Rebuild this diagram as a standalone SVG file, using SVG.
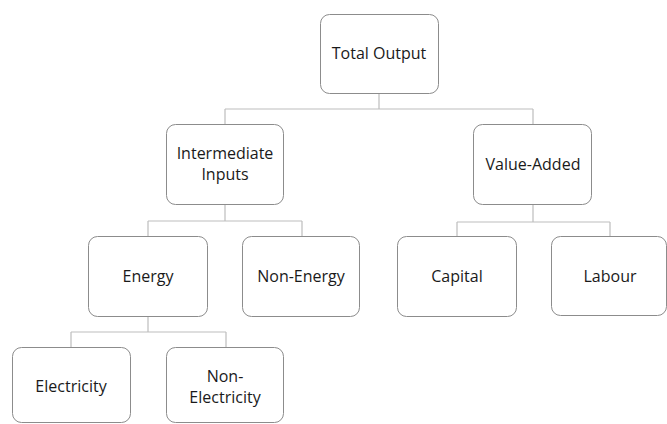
<svg xmlns="http://www.w3.org/2000/svg" width="667" height="424" viewBox="0 0 667 424">
<style>
.box{fill:#fff;stroke:#8c8c8c;stroke-width:1}
.lbl{font-family:"Open Sans","Liberation Sans",sans-serif;font-size:16px;fill:#1a1a1a;text-anchor:middle}
.con{fill:none;stroke:#bdbdbd;stroke-width:1.2}
</style>
<rect width="667" height="424" fill="#fff"/>
<g id="connectors">
<path class="con" d="M379,93 V109 M225,109 H533 M225,109 V124 M533,109 V124"/>
<path class="con" d="M225,204 V221 M148,221 H302 M148,221 V236 M302,221 V236"/>
<path class="con" d="M533,204 V222 M457,222 H610 M457,222 V236 M610,222 V236"/>
<path class="con" d="M148,316 V332 M71,332 H226 M71,332 V347 M226,332 V347"/>
</g>
<g id="total-output"><rect class="box" x="320.5" y="14.5" width="118" height="79" rx="9"/><text class="lbl" x="379" y="59">Total Output</text></g>
<g id="intermediate-inputs"><rect class="box" x="166.5" y="124.5" width="117" height="80" rx="9"/><text class="lbl" x="225" y="159">Intermediate</text><text class="lbl" x="225" y="180">Inputs</text></g>
<g id="value-added"><rect class="box" x="473.5" y="124.5" width="118" height="80" rx="9"/><text class="lbl" x="533" y="170">Value-Added</text></g>
<g id="energy"><rect class="box" x="88.5" y="236.5" width="119" height="80" rx="9"/><text class="lbl" x="148" y="282">Energy</text></g>
<g id="non-energy"><rect class="box" x="242.5" y="236.5" width="117" height="80" rx="9"/><text class="lbl" x="301" y="282">Non-Energy</text></g>
<g id="capital"><rect class="box" x="397.5" y="236.5" width="119" height="80" rx="9"/><text class="lbl" x="457" y="282">Capital</text></g>
<g id="labour"><rect class="box" x="551.5" y="236.5" width="115" height="79" rx="9"/><text class="lbl" x="610" y="282">Labour</text></g>
<g id="electricity"><rect class="box" x="12.5" y="347.5" width="118" height="75" rx="9"/><text class="lbl" x="71" y="392">Electricity</text></g>
<g id="non-electricity"><rect class="box" x="166.5" y="347.5" width="117" height="75" rx="9"/><text class="lbl" x="225" y="382">Non-</text><text class="lbl" x="225" y="403">Electricity</text></g>
</svg>
